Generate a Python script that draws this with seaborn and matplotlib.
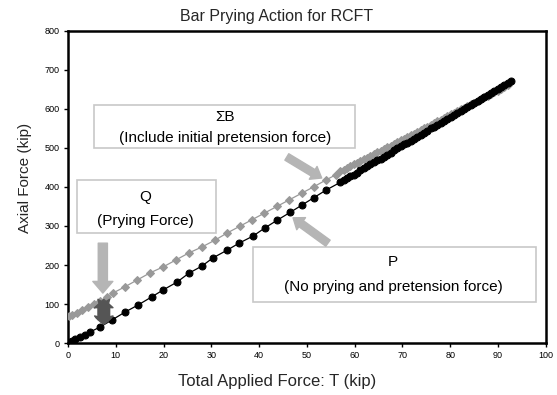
import matplotlib
matplotlib.use("Agg")
import matplotlib.pyplot as plt
import seaborn as sns
import pandas as pd
from matplotlib.patches import Rectangle

sns.set_theme(style="white")
plt.rcParams['font.family'] = ['Liberation Sans', 'DejaVu Sans']

title = "Bar Prying Action for RCFT"
xlabel = "Total Applied Force: T (kip)"
ylabel = "Axial Force (kip)"
xticks = [0, 10, 20, 30, 40, 50, 60, 70, 80, 90, 100]
yticks = [0, 100, 200, 300, 400, 500, 600, 700, 800]

# P (no prying and pretension force)
p_x = [0, 0.4, 0.9, 1.5, 2.5, 3.5, 4.6, 6.7, 9.2, 11.9, 14.6, 17.5, 19.9, 22.8, 25.3,
       28.0, 30.3, 33.3, 35.8, 38.7, 41.2, 43.8, 46.5, 49.0, 51.5, 54.0,
       57.0, 57.7, 58.4, 59.1, 59.8, 60.5, 61.2, 61.9, 62.6, 63.3, 64.0, 64.7, 65.4,
       66.1, 66.8, 67.5, 68.2, 68.9, 69.6, 70.3, 71.0, 71.7, 72.4, 73.1, 73.8, 74.5,
       75.2, 75.9, 76.6, 77.3, 78.0, 78.7, 79.4, 80.1, 80.8, 81.5, 82.2, 82.9, 83.6,
       84.3, 85.0, 85.7, 86.4, 87.1, 87.8, 88.5, 89.2, 89.9, 90.6, 91.3, 92.0, 92.7]
p_y = [0, 3, 6, 10, 15, 21, 28, 41, 59, 79, 97, 118, 136, 156, 179,
       197, 218, 238, 256, 274, 295, 315, 335, 354, 373, 392,
       412, 417, 422, 427, 432, 437, 443, 448, 453, 458, 463, 468, 473,
       478, 483, 488, 494, 499, 504, 509, 514, 519, 524, 529, 534, 539,
       544, 550, 555, 560, 565, 570, 575, 580, 585, 590, 595, 601, 606,
       611, 616, 621, 626, 631, 636, 641, 646, 652, 657, 662, 667, 672]

# Sum B (include initial pretension force)
b_x = [0.3, 0.8, 1.8, 2.9, 4.2, 5.5, 6.8, 8.1, 9.4, 11.9, 14.4, 17.2, 19.9, 22.6, 25.3,
       28.0, 30.8, 33.3, 35.9, 38.5, 41.1, 43.7, 46.3, 48.9, 51.5, 54.0, 56.0,
       57.0, 57.7, 58.4, 59.1, 59.8, 60.5, 61.2, 61.9, 62.6, 63.3, 64.0, 64.7, 65.4,
       66.1, 66.8, 67.5, 68.2, 68.9, 69.6, 70.3, 71.0, 71.7, 72.4, 73.1, 73.8, 74.5,
       75.2, 75.9, 76.6, 77.3, 78.0, 78.7, 79.4, 80.1, 80.8, 81.5, 82.2, 82.9, 83.6,
       84.3, 85.0, 85.7, 86.4, 87.1, 87.8, 88.5, 89.2, 89.9, 90.6, 91.3, 92.0]
b_y = [70, 72, 78, 85, 92, 100, 109, 117, 128, 144, 161, 180, 195, 213, 231,
       246, 264, 282, 299, 316, 333, 350, 367, 384, 401, 418, 431,
       440, 444, 449, 453, 458, 462, 467, 471, 475, 480, 484, 489, 493,
       498, 502, 506, 511, 515, 520, 524, 528, 533, 537, 542, 546, 550,
       555, 559, 564, 568, 572, 577, 581, 586, 590, 594, 599, 603, 608,
       612, 616, 621, 625, 630, 634, 638, 643, 647, 652, 656, 661]

dfp = pd.DataFrame({"x": p_x, "y": p_y})
dfb = pd.DataFrame({"x": b_x, "y": b_y})

fig = plt.figure(figsize=(5.57, 3.95), dpi=100)
ax = fig.add_axes([0.122, 0.1316, 0.858, 0.79])

sns.lineplot(data=dfb, x="x", y="y", sort=False, estimator=None, ax=ax,
             color="#999999", linewidth=0.9, marker="D", markersize=4,
             markeredgecolor="#999999", markerfacecolor="#999999", zorder=3)
sns.lineplot(data=dfp, x="x", y="y", sort=False, estimator=None, ax=ax,
             color="black", linewidth=0.9, marker="o", markersize=5,
             markeredgecolor="black", markerfacecolor="black", zorder=4)

ax.set_xlim(0, 100)
ax.set_ylim(0, 800)
ax.set_xticks(xticks)
ax.set_yticks(yticks)
ax.tick_params(axis="both", which="both", direction="out", length=3, width=1,
               labelsize=6.5, colors="black", bottom=True, left=True, pad=3)
for s in ax.spines.values():
    s.set_color("black")
    s.set_linewidth(1.8)
ax.set_title(title, fontsize=11.5, x=0.437, pad=7)
ax.set_xlabel(xlabel, fontsize=12)
ax.set_ylabel(ylabel, fontsize=11)
ax.xaxis.set_label_coords(0.437, -0.1)
ax.yaxis.set_label_coords(-0.075, 0.53)

# annotation boxes
boxes = [(5.4, 500, 54.6, 110), (1.9, 282, 29.1, 136), (38.7, 105, 59.2, 141)]
for (bx, by, bw, bh) in boxes:
    ax.add_patch(Rectangle((bx, by), bw, bh, facecolor="white", edgecolor="#c8c8c8",
                           linewidth=1.2, zorder=5))

tk = dict(ha="center", va="center", fontsize=11, zorder=6, color="black")
ax.text(32.8, 579, "ΣB", **tk)
ax.text(32.8, 526, "(Include initial pretension force)", **tk)
ax.text(16.1, 374, "Q", **tk)
ax.text(16.1, 313, "(Prying Force)", **tk)
ax.text(68.0, 208, "P", **tk)
ax.text(68.0, 144, "(No prying and pretension force)", **tk)

# block arrows
light = "#b5b5b5"
ax.annotate("", xy=(53.1, 423), xytext=(45.8, 477),
            arrowprops=dict(arrowstyle="simple,head_length=0.6,head_width=0.9,tail_width=0.45",
                            color=light, shrinkA=0, shrinkB=0), zorder=6)
ax.annotate("", xy=(47.1, 321), xytext=(54.4, 256),
            arrowprops=dict(arrowstyle="simple,head_length=0.6,head_width=0.9,tail_width=0.45",
                            color=light, shrinkA=0, shrinkB=0), zorder=6)
ax.annotate("", xy=(7.3, 128), xytext=(7.3, 256),
            arrowprops=dict(arrowstyle="simple,head_length=0.7,head_width=1.2,tail_width=0.55",
                            color=light, shrinkA=0, shrinkB=0), zorder=6)
ax.annotate("", xy=(7.5, 48), xytext=(7.5, 112),
            arrowprops=dict(arrowstyle="fancy,head_length=0.5,head_width=1.1,tail_width=0.7",
                            color="#555555", shrinkA=0, shrinkB=0), zorder=6)
ax.annotate("", xy=(7.5, 112), xytext=(7.5, 60),
            arrowprops=dict(arrowstyle="simple,head_length=0.5,head_width=1.1,tail_width=0.7",
                            color="#555555", shrinkA=0, shrinkB=0), zorder=6)

fig.savefig("out.png", dpi=100)
